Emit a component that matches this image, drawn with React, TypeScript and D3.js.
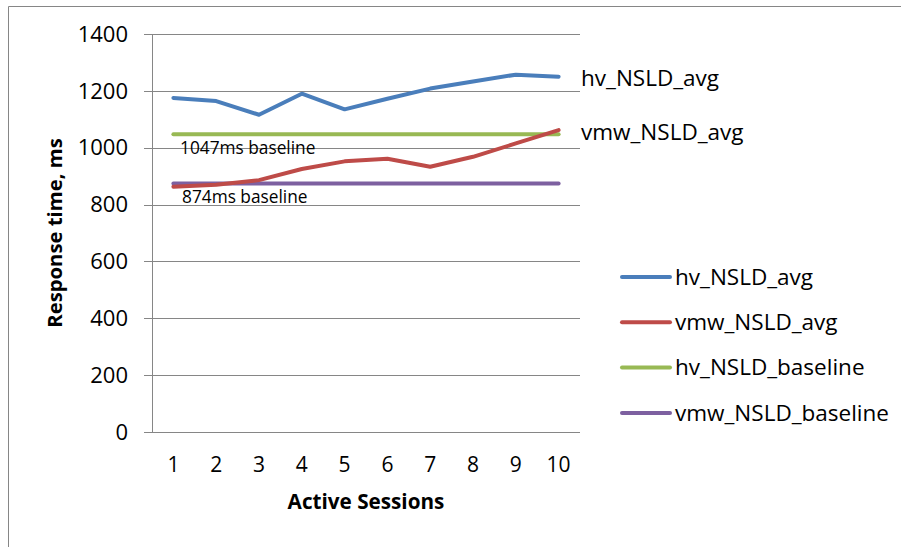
import React from 'react';
import * as d3 from 'd3';

// data
const sessions = ['1', '2', '3', '4', '5', '6', '7', '8', '9', '10'];
const hvAvg = [1175, 1164, 1116, 1190, 1135, 1172, 1208, 1233, 1257, 1250];
const vmwAvg = [863, 870, 886, 925, 952, 961, 933, 968, 1015, 1062];
const hvBaseline = [1047, 1047, 1047, 1047, 1047, 1047, 1047, 1047, 1047, 1047];
const vmwBaseline = [874, 874, 874, 874, 874, 874, 874, 874, 874, 874];
const yTicks = [0, 200, 400, 600, 800, 1000, 1200, 1400];

const seriesNames = ['hv_NSLD_avg', 'vmw_NSLD_avg', 'hv_NSLD_baseline', 'vmw_NSLD_baseline'];
const seriesColors = ['#4a7ebb', '#be4b48', '#98b954', '#7d60a0'];

const FONT = '"Open Sans", "Noto Sans", sans-serif';

const App = () => {
    const width = 901;
    const height = 547;
    const left = 152, right = 580, top = 34, bottom = 432;

    const x = d3.scaleBand().domain(sessions).range([left, right]);
    const y = d3.scaleLinear().domain([0, 1400]).range([bottom, top]);
    const cx = (s: string) => (x(s) ?? 0) + x.bandwidth() / 2;

    const line = d3.line<number>()
        .x((_, i) => cx(sessions[i]))
        .y(d => y(d));

    // draw order: baselines below avg lines like the picture
    const series = [hvAvg, vmwAvg, hvBaseline, vmwBaseline];
    const drawOrder = [2, 3, 1, 0];
    const last = sessions.length - 1;

    return (
        <svg width={width} height={height}
             style={{position: 'absolute', left: 0, top: 0, background: '#fff'}}
             fontFamily={FONT}>
            {/* outer frame */}
            <line x1={8.5} y1={6.5} x2={width} y2={6.5} stroke="#868686" strokeWidth={1}/>
            <line x1={8.5} y1={6.5} x2={8.5} y2={height} stroke="#868686" strokeWidth={1}/>

            {/* gridlines and y ticks */}
            {yTicks.map(t => (
                <g key={t}>
                    <line x1={144} x2={right} y1={Math.round(y(t)) + 0.5} y2={Math.round(y(t)) + 0.5}
                          stroke="#868686" strokeWidth={1}/>
                    <text x={128} y={y(t)} dy="0.35em" textAnchor="end" fontSize={22} fill="#000">{t}</text>
                </g>
            ))}
            <line x1={left + 0.5} x2={left + 0.5} y1={top} y2={bottom} stroke="#868686" strokeWidth={1}/>

            {/* x tick labels */}
            {sessions.map(s => (
                <text key={s} x={cx(s)} y={465} dy="0.35em" textAnchor="middle" fontSize={21} fill="#000">{s}</text>
            ))}

            {/* series */}
            {drawOrder.map(i => (
                <path key={i} d={line(series[i]) ?? ''} fill="none" stroke={seriesColors[i]}
                      strokeWidth={4} strokeLinecap="round" strokeLinejoin="round"/>
            ))}

            {/* baseline labels */}
            <text x={180} y={y(hvBaseline[0]) + 14} dy="0.35em" fontSize={17.3} fill="#000">1047ms baseline</text>
            <text x={182} y={y(vmwBaseline[0]) + 13} dy="0.35em" fontSize={17.3} fill="#000">874ms baseline</text>

            {/* end labels */}
            <text x={right + 1} y={y(hvAvg[last]) + 1} dy="0.35em" fontSize={22.5} fill="#000">{seriesNames[0]}</text>
            <text x={right + 1} y={y(vmwAvg[last]) + 2} dy="0.35em" fontSize={22.5} fill="#000">{seriesNames[1]}</text>

            {/* axis titles */}
            <text transform={`translate(55,${(top + bottom) / 2}) rotate(-90)`} dy="0.35em" textAnchor="middle"
                  fontSize={20.3} fontWeight="bold" fill="#000">Response time, ms</text>
            <text x={(left + right) / 2} y={502} dy="0.35em" textAnchor="middle"
                  fontSize={20.7} fontWeight="bold" fill="#000">Active Sessions</text>

            {/* legend */}
            {seriesNames.map((n, i) => (
                <g key={n} transform={`translate(0,${277 + i * 45.3})`}>
                    <line x1={622} x2={670} y1={0} y2={0} stroke={seriesColors[i]} strokeWidth={4} strokeLinecap="round"/>
                    <text x={675} y={0} dy="0.35em" fontSize={22.5} fill="#000">{n}</text>
                </g>
            ))}
        </svg>
    );
};

export default App;
